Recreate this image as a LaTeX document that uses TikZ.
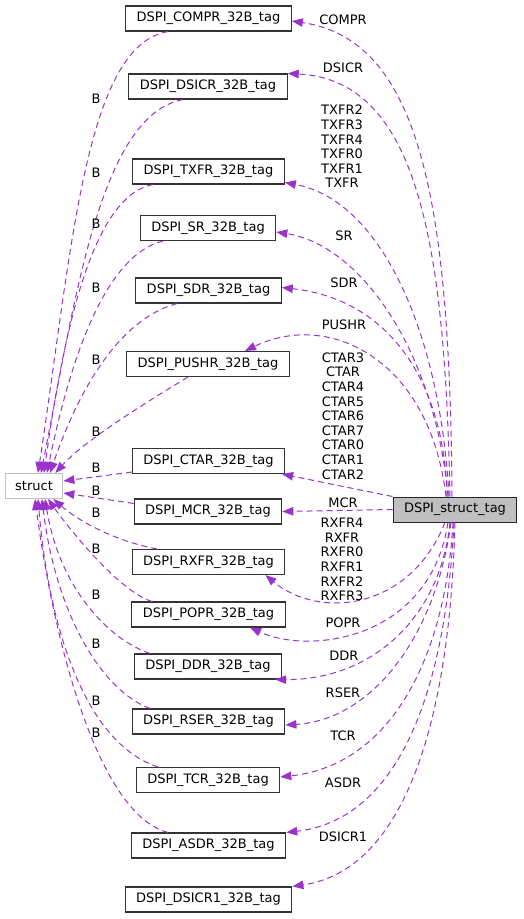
\documentclass[tikz,border=0pt]{standalone}
\usepackage{fontspec}
\setmainfont{DejaVu Sans}
\usetikzlibrary{arrows.meta,calc}
\definecolor{orchid}{RGB}{154,50,205}
\definecolor{boxgray}{RGB}{191,191,191}
\begin{document}
\begin{tikzpicture}[x=1pt,y=-1pt,
  every node/.style={font=\fontsize{13}{14.6}\selectfont},
  cls/.style={draw=black!80,line width=1.1pt,inner xsep=11pt,minimum height=25pt,inner ysep=0pt,fill=white},
  lbl/.style={inner sep=0pt,align=center},
  use/.style={orchid,line width=1pt,dash pattern=on 6pt off 4pt,-{Triangle[length=11pt,width=8.5pt]}}]
\useasboundingbox (0,0) rectangle (523,919);
% class nodes
\node[cls] (compr) at (208.5,18.5) {DSPI\_COMPR\_32B\_tag};
\node[cls] (dsicr) at (208,86.5) {DSPI\_DSICR\_32B\_tag};
\node[cls] (txfr) at (208.5,171.5) {DSPI\_TXFR\_32B\_tag};
\node[cls] (sr) at (208,228) {DSPI\_SR\_32B\_tag};
\node[cls] (sdr) at (208.5,290.5) {DSPI\_SDR\_32B\_tag};
\node[cls] (pushr) at (208,364) {DSPI\_PUSHR\_32B\_tag};
\node[cls] (ctar) at (208.5,461) {DSPI\_CTAR\_32B\_tag};
\node[cls] (mcr) at (208,511.5) {DSPI\_MCR\_32B\_tag};
\node[cls] (rxfr) at (208.5,562) {DSPI\_RXFR\_32B\_tag};
\node[cls] (popr) at (208.5,614.5) {DSPI\_POPR\_32B\_tag};
\node[cls] (ddr) at (208,666.5) {DSPI\_DDR\_32B\_tag};
\node[cls] (rser) at (208.5,721.5) {DSPI\_RSER\_32B\_tag};
\node[cls] (tcr) at (208,780) {DSPI\_TCR\_32B\_tag};
\node[cls] (asdr) at (208.5,845.5) {DSPI\_ASDR\_32B\_tag};
\node[cls] (dsicr1) at (208.5,899.5) {DSPI\_DSICR1\_32B\_tag};
\node[cls,draw=boxgray,line width=1pt,inner xsep=10pt] (struct) at (34,486) {struct};
\node[cls,fill=boxgray,draw=black!85,line width=1pt] (tag) at (455,509.5) {DSPI\_struct\_tag};
% edges to struct
\draw[use] ($(compr.south)+(-40.5,0)$) .. controls (85,45) and (72,250) .. ($(struct.north)+(4,0)$);
\draw[use] ($(dsicr.south)+(-25,0)$) .. controls (100,115) and (75,300) .. ($(struct.north)+(7,0)$);
\draw[use] ($(txfr.south)+(-55.5,0)$) .. controls (95,195) and (65,320) .. ($(struct.north)+(10,0)$);
\draw[use] ($(sr.south)+(-45,0)$) .. controls (105,255) and (70,360) .. ($(struct.north)+(13,0)$);
\draw[use] ($(sdr.south)+(-31.5,0)$) .. controls (115,320) and (75,400) .. ($(struct.north)+(16,0)$);
\draw[use] ($(pushr.south)+(-20,0)$) .. controls (150,400) and (85,440) .. ($(struct.north east)+(-8,0)$);
\draw[use] ($(ctar.south west)+(0,-2)$) -- ($(struct.east)+(0,-5)$);
\draw[use] ($(mcr.north west)+(0,5)$) -- ($(struct.east)+(0,7)$);
\draw[use] ($(rxfr.north)+(-51.5,0)$) .. controls (110,540) and (75,518) .. ($(struct.south east)+(-10,0)$);
\draw[use] ($(popr.north)+(-56.5,0)$) .. controls (120,592) and (70,530) .. ($(struct.south)+(14,0)$);
\draw[use] ($(ddr.north)+(-58,0)$) .. controls (110,640) and (60,590) .. ($(struct.south)+(11,0)$);
\draw[use] ($(rser.north)+(-58.5,0)$) .. controls (100,690) and (55,610) .. ($(struct.south)+(8,0)$);
\draw[use] ($(tcr.north)+(-50,0)$) .. controls (90,745) and (50,640) .. ($(struct.south)+(4,0)$);
\draw[use] ($(asdr.north)+(-40.5,0)$) .. controls (100,815) and (55,650) .. ($(struct.south)+(1,0)$);
% B labels
\foreach \yy in {99,173,224,288,360,432,468,491,513,549,595,644,701,733}
  \node[lbl] at (96,\yy) {B};
% edges from DSPI_struct_tag
\draw[use] ($(tag.north)+(-3,0)$) .. controls (450,200) and (420,40) .. ($(compr.east)+(0,2.5)$);
\draw[use] ($(tag.north)+(-5,0)$) .. controls (445,250) and (420,80) .. (dsicr.north east);
\draw[use] ($(tag.north)+(-6,0)$) .. controls (440,330) and (380,200) .. ($(txfr.south east)+(0,-2)$);
\draw[use] ($(tag.north)+(-7,0)$) .. controls (435,350) and (360,245) .. ($(sr.east)+(0,4)$);
\draw[use] ($(tag.north)+(-8,0)$) .. controls (445,390) and (395,300) .. ($(sdr.east)+(0,-3)$);
\draw[use] ($(tag.north)+(-9,0)$) .. controls (430,360) and (330,310) .. ($(pushr.north)+(37,0)$);
\draw[use] (tag.north west) -- ($(ctar.south east)+(-3,0)$);
\draw[use] (tag.west) -- (mcr.east);
\draw[use] ($(tag.south)+(-10,0)$) .. controls (410,610) and (320,620) .. ($(rxfr.south east)+(-20,0)$);
\draw[use] ($(tag.south)+(-7,0)$) .. controls (430,640) and (310,655) .. ($(popr.south)+(41.5,0)$);
\draw[use] ($(tag.south)+(-5,0)$) .. controls (440,620) and (370,680) .. ($(ddr.south east)+(-7,0)$);
\draw[use] ($(tag.south)+(-4,0)$) .. controls (435,640) and (370,720) .. ($(rser.east)+(0,3.5)$);
\draw[use] ($(tag.south)+(-2,0)$) .. controls (445,660) and (390,765) .. ($(tcr.east)+(0,-3)$);
\draw[use] ($(tag.south)+(-1,0)$) .. controls (445,700) and (395,820) .. (asdr.north east);
\draw[use] (tag.south) .. controls (450,720) and (405,870) .. (dsicr1.north east);
% edge labels
\node[lbl] (lcompr) at (343,20) {COMPR};
\node[lbl] (ldsicr) at (343,68) {DSICR};
\node[lbl] (ltxfr) at (342,146.5) {TXFR2\\TXFR3\\TXFR4\\TXFR0\\TXFR1\\TXFR};
\node[lbl] (lsr) at (344,236) {SR};
\node[lbl] (lsdr) at (344,283) {SDR};
\node[lbl] (lpushr) at (344,325) {PUSHR};
\node[lbl] (lctar) at (343,416) {CTAR3\\CTAR\\CTAR4\\CTAR5\\CTAR6\\CTAR7\\CTAR0\\CTAR1\\CTAR2};
\node[lbl] (lmcr) at (343,503) {MCR};
\node[lbl] (lrxfr) at (342,559.5) {RXFR4\\RXFR\\RXFR0\\RXFR1\\RXFR2\\RXFR3};
\node[lbl] (lpopr) at (343,623) {POPR};
\node[lbl] (lddr) at (344,656) {DDR};
\node[lbl] (lrser) at (343,693) {RSER};
\node[lbl] (ltcr) at (343,736) {TCR};
\node[lbl] (lasdr) at (343,783) {ASDR};
\node[lbl] (ldsicr1) at (343,837) {DSICR1};
\end{tikzpicture}
\end{document}
